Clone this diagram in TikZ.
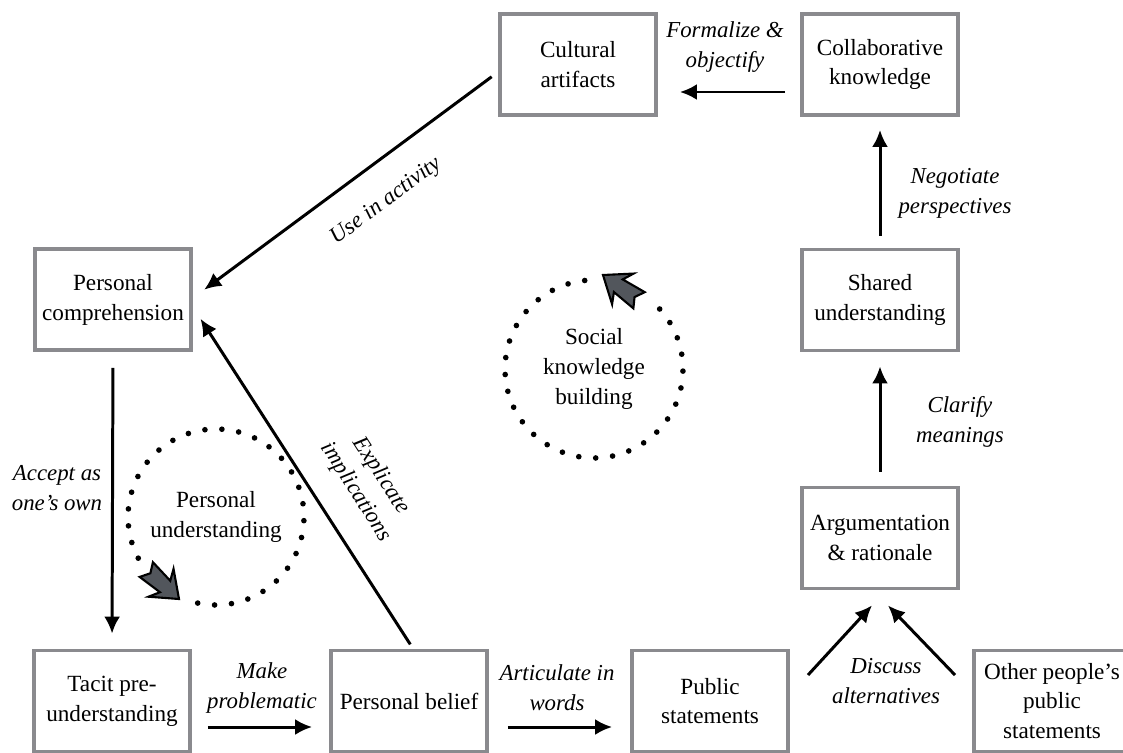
\documentclass[tikz,border=0pt]{standalone}
\usepackage{fontspec}
\setmainfont{Liberation Serif}
\usetikzlibrary{arrows.meta, calc}
\definecolor{boxgray}{RGB}{138,138,142}
\definecolor{tipgray}{RGB}{82,86,92}

\begin{document}
\begin{tikzpicture}[x=0.02cm, y=0.02cm, >={Latex[length=0.34cm, width=0.32cm]},
  box/.style={rectangle, draw=boxgray, line width=2.2pt, fill=white,
              minimum width=3.12cm, minimum height=2.02cm, inner sep=2pt,
              align=center, font=\fontsize{13.2}{17}\selectfont},
  cycletxt/.style={align=center, font=\fontsize{13.2}{17}\selectfont},
  lbl/.style={align=center, font=\fontsize{13}{17}\selectfont\itshape},
  arr/.style={->, line width=1.7pt},
  dots/.style={line width=3.2pt, line cap=round, dash pattern=on 0pt off 0.34cm},
  bigtip/.style={draw=black, line width=1.2pt, fill=tipgray, line join=miter},
]
\useasboundingbox (0,0) rectangle (1123,-752);

%% ── Top row ─────────────────────────────────────────────────────────
\node[box] (cult)   at (578,-64.5) {Cultural\\artifacts};
\node[box] (collab) at (880,-64.5) {Collaborative\\knowledge};

%% ── Middle ──────────────────────────────────────────────────────────
\node[box] (pcomp)  at (113,-299.5) {Personal\\comprehension};
\node[box] (shared) at (880,-300)   {Shared\\understanding};
\node[box] (argu)   at (880,-538)   {Argumentation\\\& rationale};

%% ── Bottom row ──────────────────────────────────────────────────────
\node[box] (tacit)   at (112,-701)  {Tacit pre-\\understanding};
\node[box] (pbelief) at (409,-701)  {Personal belief};
\node[box] (public)  at (710,-701)  {Public\\statements};
\node[box] (other)   at (1052,-701) {Other people's\\public\\statements};

%% ── Cycles ──────────────────────────────────────────────────────────
\node[cycletxt] (pu)  at (216,-517) {Personal\\understanding};
\node[cycletxt] (skb) at (594,-369) {Social\\knowledge\\building};
\draw[dots] (pu.center) ++(258:1.76cm) arc[start angle=258, end angle=572, radius=1.76cm];
\draw[dots] (skb.center) ++(96:1.78cm) arc[start angle=96, end angle=409, radius=1.78cm];
\draw[bigtip, shift={(179,-599)}, rotate=-42, scale=1.1]
    (0,0) -- (-22,17) -- (-17,7) -- (-40,9) -- (-35,0) -- (-40,-9) -- (-17,-7) -- (-22,-17) -- cycle;
\draw[bigtip, shift={(603,-275)}, rotate=145, scale=1.1]
    (0,0) -- (-22,17) -- (-17,7) -- (-40,9) -- (-35,0) -- (-40,-9) -- (-17,-7) -- (-22,-17) -- cycle;

%% ── Right column arrows ─────────────────────────────────────────────
\draw[arr, shorten <=0.3cm, shorten >=0.44cm]
    ([yshift=-0.55cm]collab.west) -- ([yshift=-0.55cm]cult.east);
\node[lbl] (formalize) at (725,-47) {Formalize \&\\objectify};
\draw[arr, shorten <=0.24cm, shorten >=0.26cm] (shared.north) -- (collab.south);
\node[lbl] (negotiate) at (955,-193) {Negotiate\\perspectives};
\draw[arr, shorten <=0.28cm, shorten >=0.28cm] (argu.north) -- (shared.south);
\node[lbl] (clarify) at (960,-422) {Clarify\\meanings};

%% ── Discussion ──────────────────────────────────────────────────────
\coordinate (d1) at (808,-675);
\coordinate (d2) at (955,-675);
\draw[arr] (d1) -- ([xshift=-0.16cm, yshift=-0.3cm]argu.south);
\draw[arr] (d2) -- ([xshift=0.16cm, yshift=-0.3cm]argu.south);
\node[lbl] (discuss) at (886,-681) {Discuss\\alternatives};

%% ── Bottom arrows ───────────────────────────────────────────────────
\draw[arr, shorten <=0.38cm, shorten >=0.36cm]
    ([yshift=-0.52cm]pbelief.east) -- ([yshift=-0.52cm]public.west);
\node[lbl] (articulate) at (557,-688) {Articulate in\\words};
\draw[arr, shorten <=0.32cm, shorten >=0.34cm]
    ([yshift=-0.52cm]tacit.east) -- ([yshift=-0.52cm]pbelief.west);
\node[lbl] (make) at (262,-688) {Make\\problematic};
\draw[arr, shorten <=0.32cm, shorten >=0.3cm] (pcomp.south) -- (tacit.north);
\node[lbl] (accept) at (57,-488) {Accept as\\one's own};

%% ── Diagonals ───────────────────────────────────────────────────────
\draw[arr, shorten <=0.1cm, shorten >=0.28cm]
    ([xshift=0.08cm]pbelief.north) --
    node[lbl, sloped, pos=0.40, above=0.38cm]{Explicate\\implications}
    ([yshift=-0.15cm]pcomp.east);
\draw[arr, shorten <=0.16cm, shorten >=0.28cm]
    ([yshift=-0.15cm]cult.west) --
    node[lbl, sloped, pos=0.44, below=0.4cm]{Use in activity}
    ([yshift=0.03cm]pcomp.east);

\end{tikzpicture}
\end{document}
